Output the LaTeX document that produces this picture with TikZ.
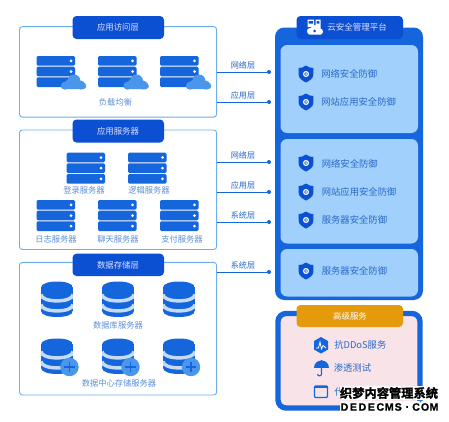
\documentclass[tikz,border=0pt]{standalone}
\usepackage{fontspec}
\setmainfont{Noto Sans CJK SC}
\newfontfamily\wmfont[FakeBold=2]{Noto Sans CJK SC Bold}
\newfontfamily\wmlat[FakeBold=1]{Liberation Sans Bold}
\definecolor{deep}{HTML}{0B50D2}
\definecolor{mainb}{HTML}{1565DC}
\definecolor{frameb}{HTML}{6DB0EE}
\definecolor{paleb}{HTML}{A0D0FB}
\definecolor{cloudb}{HTML}{4A96EA}
\definecolor{bandb}{HTML}{C3DCF4}
\definecolor{labelb}{HTML}{5C8FD6}
\definecolor{textb}{HTML}{2A68C8}
\definecolor{orng}{HTML}{E59A0C}
\definecolor{pinkbg}{HTML}{F8E4E8}
\tikzset{
  x=0.75pt,y=-0.75pt,
  framebox/.style={draw=frameb,line width=0.7pt,rounded corners=2.2pt,fill=white},
  headbox/.style={fill=deep,rounded corners=3pt},
  headtxt/.style={text=white!88!blue,font=\fontsize{6.3pt}{7pt}\selectfont,inner sep=0pt},
  lab/.style={text=labelb,font=\fontsize{6.2pt}{7pt}\selectfont,inner sep=0pt},
  tier/.style={text=textb,font=\fontsize{6.1pt}{7pt}\selectfont,inner sep=0pt},
  sec/.style={text=textb,anchor=west,font=\fontsize{7pt}{8pt}\selectfont,inner sep=0pt},
  wire/.style={draw=mainb,line width=0.6pt},
  dotn/.style={circle,fill=mainb,inner sep=0pt,minimum size=3pt},
  pics/rack/.style={code={
    \foreach \r in {0,10.7,21.4}{
      \fill[mainb,rounded corners=1pt] (0,\r) rectangle (38.5,\r+9.6);
      \fill[white] (34.5,\r+4.8) circle (1.5);
    }}},
  pics/cloudicon/.style={code={
    \fill[cloudb] (0.5,-2.5) circle (6.5) (-8.5,2.2) circle (4) (-4.5,0) circle (4) (7,1.5) circle (4.5) (9,2.3) circle (3.6);
    \fill[cloudb,rounded corners=2.5pt] (-12.3,1) rectangle (12.5,5.5);
  }},
  pics/dbicon/.style={code={
    \begin{scope}
    \clip (-16,6) .. controls (-16,-2) and (16,-2) .. (16,6) -- (16,29.5)
       .. controls (16,37.5) and (-16,37.5) .. (-16,29.5) -- cycle;
    \fill[mainb] (-16,-1) rectangle (16,37);
    \draw[bandb,line width=2.6pt] (-16,13) .. controls (-16,21.5) and (16,21.5) .. (16,13);
    \draw[bandb,line width=2.6pt] (-16,23) .. controls (-16,31.5) and (16,31.5) .. (16,23);
    \end{scope}
  }},
  pics/plusicon/.style={code={
    \fill[cloudb] (0,0) circle (9.2);
    \draw[mainb,line width=1.3pt] (-5.2,0) -- (5.2,0) (0,-5.2) -- (0,5.2);
  }},
  pics/shield/.style={code={
    \fill[deep] (0,-8.5) .. controls (2.5,-6.5) and (5,-6) .. (7.3,-6) -- (7.3,1)
      .. controls (7.3,4.5) and (3,7) .. (0,8.5) .. controls (-3,7) and (-7.3,4.5) .. (-7.3,1)
      -- (-7.3,-6) .. controls (-5,-6) and (-2.5,-6.5) .. (0,-8.5) -- cycle;
    \draw[white,line width=0.9pt] (0,0) circle (2.4);
    \fill[white!70!paleb] (0,0) circle (1);
  }},
}
\begin{document}
\begin{tikzpicture}
\useasboundingbox (0,0) rectangle (449,421);
\fill[white] (0,0) rectangle (449,421);
% left frames
\draw[framebox] (19.5,26.6) rectangle (216.6,117.2);
\draw[framebox] (19.5,130) rectangle (216.6,249.5);
\draw[framebox] (19.5,262.4) rectangle (216.6,395);
% headers
\fill[headbox] (72.5,16) rectangle (164,39);
\node[headtxt] (h1) at (118,27.5) {应用访问层};
\fill[headbox] (72.5,119.5) rectangle (164,142.5);
\node[headtxt] (h2) at (118,131.5) {应用服务器};
\fill[headbox] (72.5,253.7) rectangle (164,276);
\node[headtxt] (h3) at (118,265) {数据存储层};
% tier 1
\foreach \x in {36.5,98,160}{\pic at (\x,56) {rack};}
\pic at (73.5,83.5) {cloudicon};
\pic at (136,83.5) {cloudicon};
\pic at (198.5,83.5) {cloudicon};
\node[lab] (t1) at (115.5,102) {负载均衡};
% tier 2
\pic at (66.5,152.7) {rack};
\pic at (128,152.7) {rack};
\node[lab] (t2a) at (84,190) {登录服务器};
\node[lab] (t2b) at (149,190) {逻辑服务器};
\foreach \x in {36.5,98,160}{\pic at (\x,200) {rack};}
\node[lab] (t2c) at (56,239) {日志服务器};
\node[lab] (t2d) at (118,239) {聊天服务器};
\node[lab] (t2e) at (182,239) {支付服务器};
% tier 3
\foreach \x in {57,118,179}{
  \pic at (\x,281.5) {dbicon};
  \pic at (\x,338.5) {dbicon};
}
\pic at (69.5,367) {plusicon};
\pic at (130.5,367) {plusicon};
\pic at (191,367) {plusicon};
\node[lab] (t3a) at (118,325) {数据库服务器};
\node[lab] (t3b) at (119,383) {数据中心存储服务器};
% right column
\fill[mainb,rounded corners=7pt] (275,27.5) rectangle (423,300);
\fill[headbox] (296.5,16) rectangle (403,39);
\fill[paleb,rounded corners=5pt] (280.5,45) rectangle (418,133);
\fill[paleb,rounded corners=5pt] (280.5,139) rectangle (418,243.5);
\fill[paleb,rounded corners=5pt] (280.5,249) rectangle (418,296.5);
% platform icon
\fill[white] (307.5,19.5) rectangle (314,27) (315.5,19.5) rectangle (320.5,30);
\fill[deep] (308.7,21) rectangle (313,23.5) (316.7,21) rectangle (319.3,23.5);
\fill[white] (310,31) circle (3) (315,29.5) circle (4.5) (320,31.5) circle (3);
\fill[white,rounded corners=1.5pt] (307.5,30) rectangle (322.5,34.5);
\fill[deep] (314.5,31) circle (1.5);
\node[headtxt,anchor=west,font=\fontsize{6.4pt}{7pt}\selectfont] (ph) at (327,27.5) {云安全管理平台};
% shields and texts
\foreach \y in {74,102,163,192,220,271}{\pic at (306,\y) {shield};}
\node[sec] (s1) at (321,73.5) {网络安全防御};
\node[sec] (s2) at (321,102) {网站应用安全防御};
\node[sec] (s3) at (321.5,163.5) {网络安全防御};
\node[sec] (s4) at (321.5,192) {网站应用安全防御};
\node[sec] (s5) at (321.5,220) {服务器安全防御};
\node[sec] (s6) at (321.5,271) {服务器安全防御};
% connectors
\foreach \n/\y in {a/72,b/102,c/162,d/192,e/222,f/272}{
  \coordinate (from\n) at (216.6,\y);
  \node[dotn] (to\n) at (269,\y) {};
  \draw[wire] (from\n) -- (to\n);
}
\node[tier] (w1) at (243,65) {网络层};
\node[tier] (w2) at (243,95.5) {应用层};
\node[tier] (w3) at (243,155) {网络层};
\node[tier] (w4) at (243,185) {应用层};
\node[tier] (w5) at (243,215.5) {系统层};
\node[tier] (w6) at (243,265.5) {系统层};
% advanced services
\draw[draw=mainb,fill=pinkbg,line width=4pt,rounded corners=6pt] (278,313.5) rectangle (420,408);
\fill[orng,rounded corners=3pt] (296.5,305) rectangle (403,327);
\node[headtxt,text=white] (adv) at (350,316) {高级服务};
% ddos icon
\fill[mainb] (321,337) -- (328,341) -- (328,349.5) -- (321,353.5) -- (314,349.5) -- (314,341) -- cycle;
\draw[white,line width=0.6pt] (316,348) -- (318.5,348) -- (320,342) -- (321.5,349) -- (323,345.5) -- (326,348);
\node[sec] (b1) at (334,345) {抗DDoS服务};
% umbrella
\fill[mainb] (314,368) .. controls (314,358) and (329,358) .. (329,368) -- cycle;
\draw[mainb,line width=0.8pt] (321.5,360) -- (321.5,374) .. controls (321.5,376.5) and (317.5,376.5) .. (317.5,374);
\node[sec] (b2) at (333.5,368) {渗透测试};
% window
\draw[mainb,line width=0.9pt,rounded corners=0.8pt] (314.5,386) rectangle (327.5,397.5);
\fill[mainb] (314.5,386) rectangle (327.5,388);
\node[sec] (b3) at (334,392) {代};
% watermark
\foreach \k in {0,...,7}{\fill[white,rounded corners=2pt] (340+12.3*\k,386) rectangle (352.6+12.3*\k,400);}
\foreach \k in {0,...,10}{\fill[white,rounded corners=1.5pt] (340+8.95*\k,401) rectangle (349.2+8.95*\k,413);}
\node[inner sep=0pt,text=black,font=\wmfont\fontsize{9.2pt}{10pt}\selectfont] (w1m) at (389,393) {织梦内容管理系统};
\foreach \c/\k in {D/0,E/1,D/2,E/3,C/4,M/5,S/6,./7,C/8,O/9,M/10}{
  \node[inner sep=0pt,text=black,font=\wmlat\fontsize{8pt}{9pt}\selectfont] (w2m\k) at (344.5+8.95*\k,407) {\c};
}
\end{tikzpicture}
\end{document}
